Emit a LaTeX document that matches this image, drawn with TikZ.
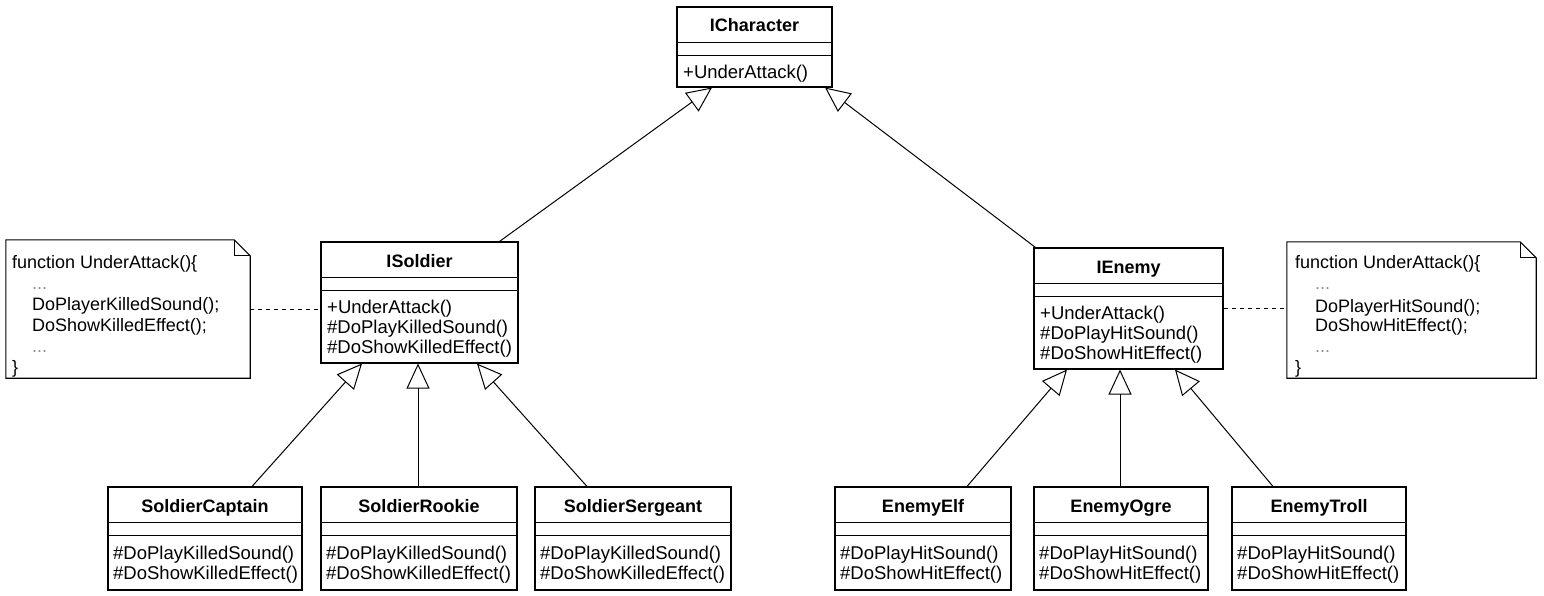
\documentclass[tikz,border=0pt]{standalone}
\usepackage{fontspec}
\setmainfont{Liberation Sans}
\usetikzlibrary{arrows.meta,fit,calc}
\tikzset{
  boxline/.style={draw, line width=1.1pt, inner sep=0pt},
  titletxt/.style={font=\fontsize{18}{20}\selectfont\bfseries, inner sep=0pt, anchor=base},
  methtxt/.style={font=\fontsize{18.5}{20}\selectfont, inner sep=0pt, anchor=base west},
  notetxt/.style={font=\fontsize{18}{21}\selectfont, inner sep=0pt, anchor=base west},
  dots/.style={notetxt, text=black!45},
  inh/.style={line width=1pt, -{Triangle[open, length=25pt, width=23pt, fill=white]}},
  dashline/.style={line width=1pt, dash pattern=on 4pt off 4pt},
}
\newcommand\umlbox[6]{%
  \node[boxline, fit={(#2,#3) (#4,#5)}] (#1) {};
  \draw[line width=0.9pt] (#2,#3+35) -- (#4,#3+35) (#2,#3+48) -- (#4,#3+48);
  \node[titletxt] at ({(#2+#4)/2},#3+25) {#6};
}
\newcommand\umlm[3]{\node[methtxt] at (#1,#2) {#3};}
\begin{document}
\begin{tikzpicture}[x=1pt, y=-1pt]
\useasboundingbox[fill=white] (0,0) rectangle (1544,596);

% top
\umlbox{ichar}{677}{7}{832}{87}{ICharacter}
\umlm{683}{79}{+UnderAttack()}

% ISoldier
\umlbox{isoldier}{321}{242}{518}{363}{ISoldier}
\umlm{327}{313}{+UnderAttack()}
\umlm{327}{333}{\#DoPlayKilledSound()}
\umlm{327}{353}{\#DoShowKilledEffect()}

% IEnemy
\umlbox{ienemy}{1034}{248}{1223}{369}{IEnemy}
\umlm{1040}{319}{+UnderAttack()}
\umlm{1040}{339}{\#DoPlayHitSound()}
\umlm{1040}{359}{\#DoShowHitEffect()}

% soldiers
\umlbox{captain}{108}{487}{302}{590}{SoldierCaptain}
\umlm{113}{559}{\#DoPlayKilledSound()}
\umlm{113}{579}{\#DoShowKilledEffect()}
\umlbox{rookie}{321}{487}{517}{590}{SoldierRookie}
\umlm{326}{559}{\#DoPlayKilledSound()}
\umlm{326}{579}{\#DoShowKilledEffect()}
\umlbox{sergeant}{535}{487}{731}{590}{SoldierSergeant}
\umlm{540}{559}{\#DoPlayKilledSound()}
\umlm{540}{579}{\#DoShowKilledEffect()}

% enemies
\umlbox{elf}{835}{487}{1011}{590}{EnemyElf}
\umlm{840}{559}{\#DoPlayHitSound()}
\umlm{840}{579}{\#DoShowHitEffect()}
\umlbox{ogre}{1034}{487}{1208}{590}{EnemyOgre}
\umlm{1039}{559}{\#DoPlayHitSound()}
\umlm{1039}{579}{\#DoShowHitEffect()}
\umlbox{troll}{1232}{487}{1406}{590}{EnemyTroll}
\umlm{1237}{559}{\#DoPlayHitSound()}
\umlm{1237}{579}{\#DoShowHitEffect()}

% notes
\node[inner sep=0pt, fit={(6,240) (250,378)}] (lnote) {};
\draw[line width=1.1pt] (lnote.north west) -- ([xshift=-16pt]lnote.north east)
  -- ([yshift=-16pt]lnote.north east) -- (lnote.south east) -- (lnote.south west) -- cycle;
\draw[line width=0.9pt] ([xshift=-16pt]lnote.north east) -- ([xshift=-16pt,yshift=-16pt]lnote.north east)
  -- ([yshift=-16pt]lnote.north east);
\node[notetxt] at (12,268) {function UnderAttack()\{};
\node[dots] at (32,289) {...};
\node[notetxt] at (32,310) {DoPlayerKilledSound();};
\node[notetxt] at (32,331) {DoShowKilledEffect();};
\node[dots] at (32,352) {...};
\node[notetxt] at (12,373) {\}};

\node[inner sep=0pt, fit={(1287,242) (1536,378)}] (rnote) {};
\draw[line width=1.1pt] (rnote.north west) -- ([xshift=-16pt]rnote.north east)
  -- ([yshift=-16pt]rnote.north east) -- (rnote.south east) -- (rnote.south west) -- cycle;
\draw[line width=0.9pt] ([xshift=-16pt]rnote.north east) -- ([xshift=-16pt,yshift=-16pt]rnote.north east)
  -- ([yshift=-16pt]rnote.north east);
\node[notetxt] at (1295,268) {function UnderAttack()\{};
\node[dots] at (1315,289) {...};
\node[notetxt] at (1315,312) {DoPlayerHitSound();};
\node[notetxt] at (1315,331) {DoShowHitEffect();};
\node[dots] at (1315,352) {...};
\node[notetxt] at (1295,373) {\}};

% dashed links
\draw[dashline] (lnote.east) -- (lnote.east -| isoldier.west);
\draw[dashline] (ienemy.east) -- (ienemy.east -| rnote.west);

% inheritance
\draw[inh] ([xshift=80pt]isoldier.north) -- ([xshift=-42.5pt]ichar.south);
\draw[inh] ([xshift=2pt]ienemy.north west) -- ([xshift=70.5pt]ichar.south);
\draw[inh] ([xshift=47pt]captain.north) -- ([xshift=-57.5pt]isoldier.south);
\draw[inh] ([xshift=-1pt]rookie.north) -- ([xshift=-1.5pt]isoldier.south);
\draw[inh] ([xshift=-46pt]sergeant.north) -- ([xshift=57.5pt]isoldier.south);
\draw[inh] ([xshift=44pt]elf.north) -- ([xshift=-61.5pt]ienemy.south);
\draw[inh] ([xshift=-1pt]ogre.north) -- ([xshift=-8.5pt]ienemy.south);
\draw[inh] ([xshift=-46pt]troll.north) -- ([xshift=46.5pt]ienemy.south);
\end{tikzpicture}
\end{document}
